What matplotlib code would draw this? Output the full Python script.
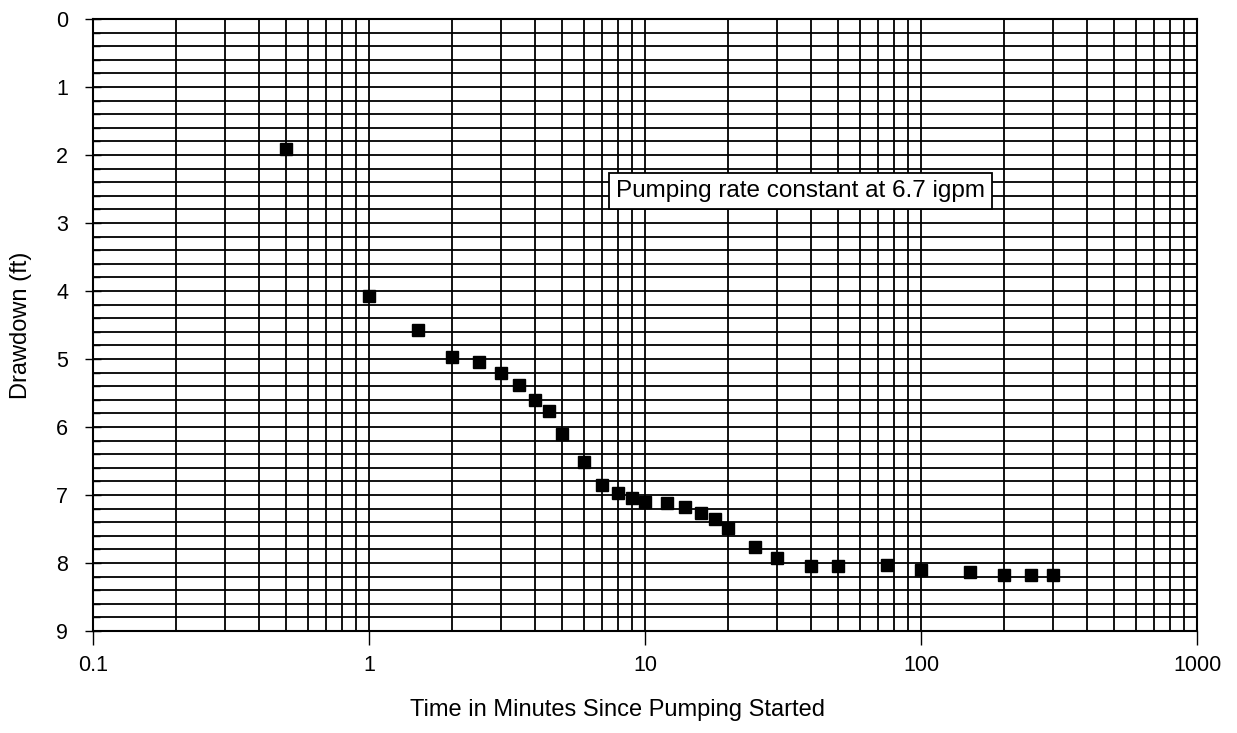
# Drawdown vs time, constant rate pumping test
import numpy as np
import matplotlib.pyplot as plt
from matplotlib.ticker import LogLocator, MultipleLocator, FixedLocator

plt.rcParams['font.family'] = ['Liberation Sans', 'DejaVu Sans']

# Pumping test readings
time_min = [0.5, 1, 1.5, 2, 2.5, 3, 3.5, 4, 4.5, 5, 6, 7, 8, 9, 10, 12, 14, 16,
            18, 20, 25, 30, 40, 50, 75, 100, 150, 200, 250, 300]
drawdown_ft = [1.91, 4.08, 4.57, 4.97, 5.05, 5.2, 5.39, 5.6, 5.76, 6.1, 6.52,
               6.85, 6.97, 7.05, 7.1, 7.12, 7.18, 7.27, 7.35, 7.48, 7.76, 7.93,
               8.05, 8.05, 8.03, 8.1, 8.13, 8.17, 8.18, 8.18]
x_ticks = [0.1, 1, 10, 100, 1000]
x_labels = ['0.1', '1', '10', '100', '1000']
y_ticks = list(range(0, 10))

fig = plt.figure(figsize=(12.37, 7.33), dpi=100)
ax = fig.add_axes([0.0752, 0.1392, 0.8925, 0.8349])

ax.plot(time_min, drawdown_ft, linestyle='none', marker='s', markersize=9,
        color='black', zorder=3)

ax.set_xscale('log')
ax.set_xlim(0.1, 1000)
ax.set_ylim(9, 0)

ax.xaxis.set_major_locator(FixedLocator(x_ticks))
ax.set_xticklabels(x_labels)
ax.xaxis.set_minor_locator(LogLocator(base=10, subs=np.arange(2, 10)))
ax.xaxis.set_minor_formatter(plt.NullFormatter())
ax.set_yticks(y_ticks)
ax.yaxis.set_minor_locator(MultipleLocator(0.2))

ax.grid(True, which='both', axis='both', color='black', linewidth=1.3)
ax.set_axisbelow(True)

ax.tick_params(axis='y', which='major', direction='inout', length=12, width=1,
               labelsize=15.5, pad=12)
ax.tick_params(axis='y', which='minor', direction='in', length=5, width=1)
ax.tick_params(axis='x', which='major', direction='out', length=10, width=1,
               labelsize=15.5, pad=7)
ax.tick_params(axis='x', which='minor', length=0)

for s in ax.spines.values():
    s.set_linewidth(1.5)
    s.set_color('black')

ax.set_xlabel('Time in Minutes Since Pumping Started', fontsize=17, labelpad=17)
ax.xaxis.label.set_x(0.475)
ax.set_ylabel('Drawdown (ft)', fontsize=17, labelpad=17)

ax.text(0.641, 0.719, 'Pumping rate constant at 6.7 igpm', transform=ax.transAxes,
        ha='center', va='center', fontsize=17.5, zorder=4,
        bbox=dict(boxstyle='square,pad=0.3', facecolor='white',
                  edgecolor='black', linewidth=1.3))

fig.savefig('out.png', dpi=100)
